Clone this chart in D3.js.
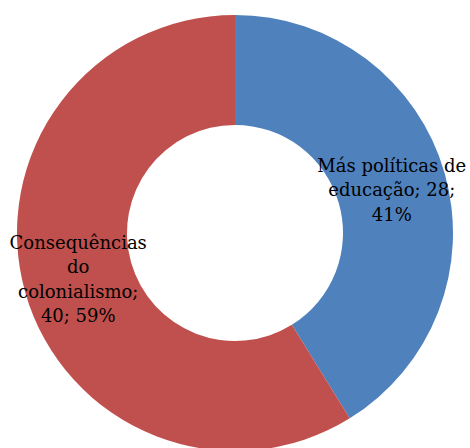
<!DOCTYPE html>
<html><head><meta charset="utf-8">
<script src="https://cdn.jsdelivr.net/npm/d3@7"></script>
<style>html,body{margin:0;padding:0;background:#fff;overflow:hidden}</style>
</head><body>
<svg id="chart" width="470" height="448"></svg>
<script>
const categories = ["Más políticas de educação", "Consequências do colonialismo"];
const values = [28, 40];
const percents = ["41%", "59%"];
const labelLines = [
  ["Más políticas de", "educação; 28;", "41%"],
  ["Consequências", "do", "colonialismo;", "40; 59%"]
];
const colors = ["#4F81BD", "#C0504D"];

const svg = d3.select("#chart");
const cx = 235, cy = 233, R = 218, r = 108;
const g = svg.append("g").attr("transform", `translate(${cx},${cy})`);

const pie = d3.pie().sort(null).value(d => d.value);
const data = categories.map((c, i) => ({cat: c, value: values[i], i}));
const arcs = pie(data);
const arc = d3.arc().innerRadius(r).outerRadius(R);

g.selectAll("path").data(arcs).enter().append("path")
  .attr("d", arc)
  .attr("fill", d => colors[d.data.i]);

const lh = 24.5;
arcs.forEach(a => {
  const [x, y] = arc.centroid(a);
  const lines = labelLines[a.data.i];
  const t = g.append("text")
    .attr("text-anchor", "middle")
    .attr("font-family", "DejaVu Serif")
    .attr("font-size", 18)
    .attr("fill", "#000");
  const y0 = y - (lines.length - 1) * lh / 2 + 8;
  lines.forEach((l, k) => {
    t.append("tspan").attr("x", x).attr("y", y0 + k * lh).text(l);
  });
});
</script>
</body></html>
